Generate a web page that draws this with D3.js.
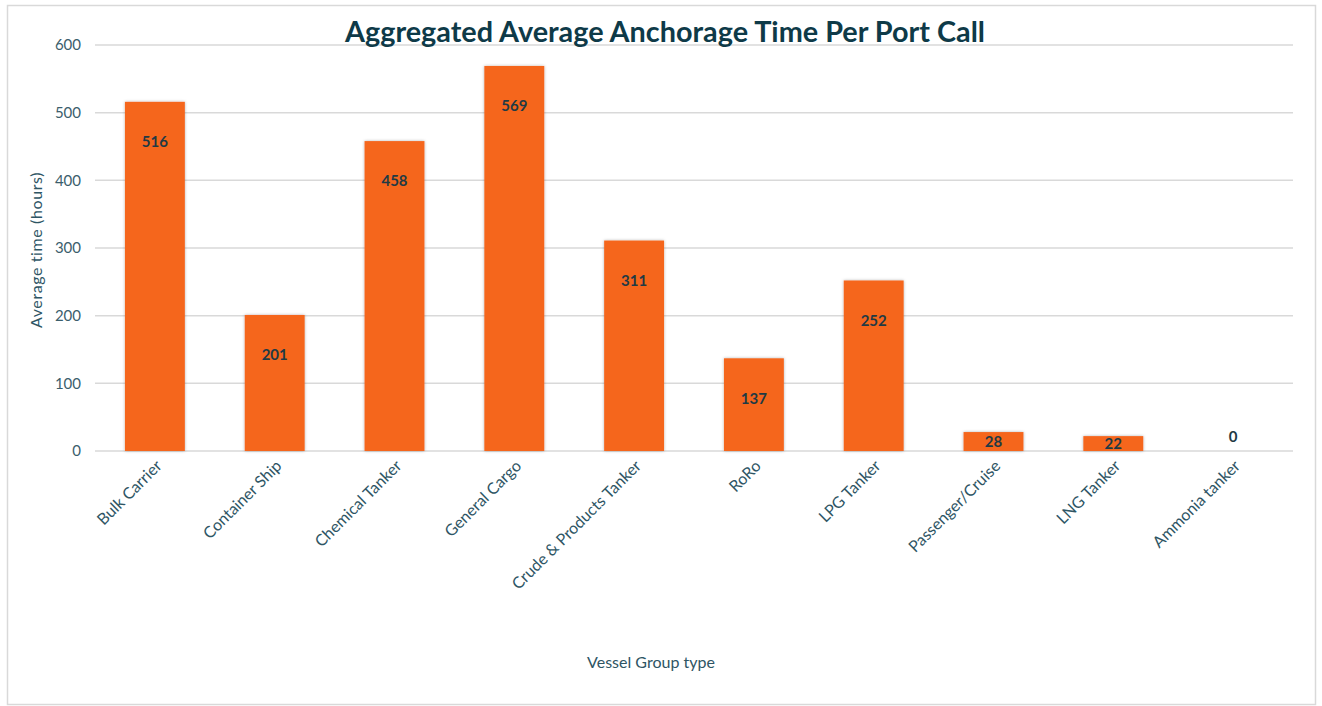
<!DOCTYPE html>
<html>
<head>
<meta charset="utf-8">
<script src="https://cdn.jsdelivr.net/npm/d3@7"></script>
<style>
  body { margin: 0; background: #fff; }
  text { font-family: Lato, "Open Sans", sans-serif; }
</style>
</head>
<body>
<svg id="drawing_region"></svg>
<script>
const categories = ["Bulk Carrier", "Container Ship", "Chemical Tanker", "General Cargo",
    "Crude & Products Tanker", "RoRo", "LPG Tanker", "Passenger/Cruise", "LNG Tanker", "Ammonia tanker"];
const hours = [516, 201, 458, 569, 311, 137, 252, 28, 22, 0];
const yTicks = [0, 100, 200, 300, 400, 500, 600];

const title = "Aggregated Average Anchorage Time Per Port Call";
const xTitle = "Vessel Group type";
const yTitle = "Average time (hours)";

const config = {
    width: 1322,
    height: 706,
    margin: {top: 45, right: 29, bottom: 255, left: 95}
};

const svg = d3.select('#drawing_region')
    .attr('width', config.width)
    .attr('height', config.height);

const defs = svg.append('defs');
const shadow = defs.append('filter').attr('id', 'shadow')
    .attr('x', '-20%').attr('y', '-20%').attr('width', '140%').attr('height', '140%');
shadow.append('feDropShadow')
    .attr('dx', 0).attr('dy', 0).attr('stdDeviation', 1.5)
    .attr('flood-color', '#000').attr('flood-opacity', 0.3);

// outer frame
svg.append('rect')
    .attr('x', 7.5).attr('y', 5.5)
    .attr('width', 1308).attr('height', 699)
    .attr('fill', 'none').attr('stroke', '#d9d9d9').attr('stroke-width', 1.5);

const innerW = config.width - config.margin.left - config.margin.right;
const innerH = 451 - config.margin.top;

const chart = svg.append('g')
    .attr('transform', `translate(${config.margin.left}, ${config.margin.top})`);

const x = d3.scaleBand().domain(categories).range([0, innerW]).paddingInner(0.5).paddingOuter(0.25);
const y = d3.scaleLinear().domain([0, 600]).range([innerH, 0]);

// grid lines
chart.selectAll('line.grid')
    .data(yTicks)
    .enter()
    .append('line')
    .attr('class', 'grid')
    .attr('x1', 0).attr('x2', innerW)
    .attr('y1', d => y(d)).attr('y2', d => y(d))
    .attr('stroke', '#d9d9d9').attr('stroke-width', 1.5);

// y axis labels
const yAxis = d3.axisLeft(y).tickValues(yTicks).tickSize(0).tickPadding(14);
chart.append('g').call(yAxis)
    .call(g => g.select('.domain').remove())
    .selectAll('text')
    .attr('font-size', 15)
    .attr('fill', '#3b5e6c')
    .style('font-family', 'Lato, sans-serif');

// bars
const data = categories.map((c, i) => ({cat: c, v: hours[i]}));
chart.selectAll('rect.bar')
    .data(data)
    .enter()
    .append('rect')
    .attr('class', 'bar')
    .attr('x', d => x(d.cat))
    .attr('y', d => y(d.v))
    .attr('width', x.bandwidth())
    .attr('height', d => innerH - y(d.v))
    .attr('fill', '#f5661f')
    .attr('filter', 'url(#shadow)');

// data labels
chart.selectAll('text.lbl')
    .data(data)
    .enter()
    .append('text')
    .attr('class', 'lbl')
    .attr('x', d => x(d.cat) + x.bandwidth() / 2)
    .attr('y', d => {
        if (d.v === 0) return y(d.v) - 14;
        if (d.v < 50) return (y(d.v) + innerH) / 2;
        return y(d.v) + 40;
    })
    .attr('dy', '0.35em')
    .attr('text-anchor', 'middle')
    .attr('font-size', 15)
    .attr('font-weight', 'bold')
    .attr('fill', '#1f3a44')
    .text(d => d.v);

// x axis labels
const xAxis = d3.axisBottom(x).tickSize(0).tickPadding(0);
chart.append('g')
    .attr('transform', `translate(0, ${innerH})`)
    .call(xAxis)
    .call(g => g.select('.domain').remove())
    .selectAll('text')
    .attr('font-size', 16)
    .attr('fill', '#2e5564')
    .style('font-family', 'Lato, sans-serif')
    .attr('text-anchor', 'end')
    .attr('dy', 0)
    .attr('transform', 'translate(8, 16) rotate(-45)');

// titles
svg.append('text')
    .attr('x', 665).attr('y', 42)
    .attr('text-anchor', 'middle')
    .attr('font-size', 29)
    .attr('font-weight', 'bold')
    .attr('fill', '#0e3a48')
    .attr('textLength', 640)
    .attr('lengthAdjust', 'spacingAndGlyphs')
    .text(title);

svg.append('text')
    .attr('x', 651).attr('y', 668)
    .attr('text-anchor', 'middle')
    .attr('font-size', 16)
    .attr('fill', '#2e5564')
    .text(xTitle);

svg.append('text')
    .attr('transform', 'translate(42, 250) rotate(-90)')
    .attr('text-anchor', 'middle')
    .attr('font-size', 16)
    .attr('letter-spacing', 0.6)
    .attr('fill', '#2e5564')
    .text(yTitle);
</script>
</body>
</html>
